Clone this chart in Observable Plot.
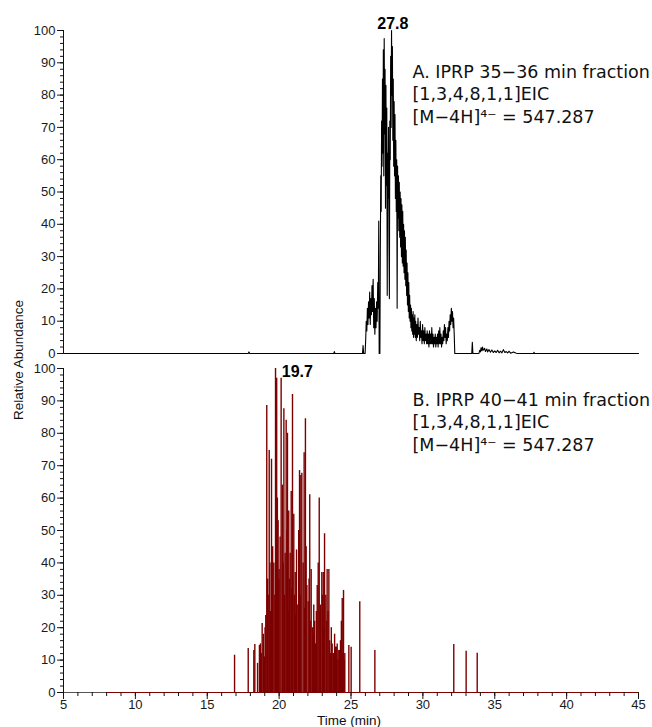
<!DOCTYPE html>
<html><head><meta charset="utf-8">
<script src="https://cdn.jsdelivr.net/npm/d3@7"></script>
<script src="https://cdn.jsdelivr.net/npm/@observablehq/plot@0.6"></script>
<style>
body{margin:0;background:#fff;}
#wrap{position:relative;width:652px;height:727px;overflow:hidden;}
#wrap svg{display:block;}
#wrap svg g[aria-label="y-axis"] text{font-size:13px !important;}
#wrap svg g[aria-label="x-axis"] text{font-size:12.5px !important;}
#ylab{position:absolute;left:18px;top:360px;transform:translate(-50%,-50%) rotate(-90deg);font:13.5px "Liberation Sans",Arial,sans-serif;white-space:nowrap;color:#111;z-index:2;}
</style></head><body>
<div id="wrap"><div id="ylab">Relative Abundance</div></div>
<script>
// Panel A trace (time in min, relative abundance)
const timeA = [5,17.85,17.9,17.95,23.8,23.84,23.88,25.8,25.84,25.88,25.98,
26.02,26.06,26.10,26.14,26.18,26.22,26.26,26.30,26.34,26.38,26.42,26.46,26.50,26.54,26.58,26.62,26.66,26.70,26.74,26.78,26.82,26.86,26.90,26.93,26.96,27.01,
27.04,27.07,27.10,27.13,27.16,27.19,27.22,27.25,27.28,27.31,27.34,27.37,27.40,27.43,27.46,27.49,27.52,27.55,27.58,27.61,27.64,27.67,27.70,27.73,27.76,27.79,27.82,27.85,27.88,27.91,27.94,27.97,
28.00,28.03,28.06,28.09,28.12,28.15,28.18,28.21,28.24,28.27,28.30,28.33,28.36,28.39,28.42,28.45,28.48,28.51,28.54,28.57,28.60,28.63,28.66,28.69,28.72,28.75,28.78,28.81,28.84,28.87,28.90,28.93,28.96,28.99,
29.02,29.05,29.08,29.11,29.14,29.17,29.20,29.23,29.26,29.29,29.32,29.35,29.38,29.41,29.44,29.47,29.50,
29.54,29.58,29.62,29.66,29.70,29.74,29.78,29.82,29.86,29.90,29.94,29.98,30.02,30.06,30.10,30.14,30.18,30.22,30.26,30.30,30.34,30.38,30.42,30.46,30.50,30.54,30.58,30.62,30.66,30.70,30.74,30.78,30.82,30.86,30.90,30.94,30.98,
31.02,31.06,31.10,31.14,31.18,31.22,31.26,31.30,31.34,31.38,31.42,31.46,31.50,31.54,31.58,31.62,31.66,31.70,31.74,31.78,31.82,31.86,31.90,31.94,31.98,32.02,32.06,32.10,32.14,32.18,32.22,32.26,
33.40,33.44,33.48,33.90,33.95,34.0,34.05,34.1,34.15,34.2,34.3,34.35,34.45,34.5,34.6,34.7,34.8,34.9,35.0,35.1,35.2,35.3,35.4,35.5,35.6,35.7,35.8,35.9,36.0,36.1,36.3,36.5,36.6,37.7,37.73,37.76,45];
const abundA = [0,0,0.5,0,0,0.6,0,0,2.5,0,0,
4,10,7,14,9,16,11,19,9,17,12,21,13,23,8,17,6,14,8,16,10,22,14,41,0,0,
32,55,44,72,58,85,62,94,55,97.5,68,88,45,83,52,76,18,62,48,70,35,17,72,60,92,70,100,80,95,66,85,58,
78,55,74,48,66,44,60,14,58,42,55,38,53,36,50,33,48,30,46,28,44,27,40,25,38,23,36,21,32,18,28,15,25,13,
22,11,18,10,15,8,14,7,12,6,13,5,11,6,12,5,10,
4,9,5,11,6,8,4,10,5,7,3,9,4,7,3,8,4,6,3,7,3,6,2,7,3,6,3,8,3,6,2,5,3,6,2,5,3,
6,2,7,3,8,3,6,2,5,3,7,4,9,5,8,3,6,4,8,5,10,7,12,9,14,10,13,8,11,6,0,0,
0,3.5,0,0,1,0.5,1.8,0.8,2,1,1.6,0.6,1.4,0.5,1.2,0.4,1.1,0.3,0.8,0.3,1.0,0.2,0.7,0.2,1.2,0.3,0.6,0.2,0.7,0.1,0.5,0.1,0,0,0.4,0,0];

// Panel B scans (time in min, relative abundance)
const timeB = [16.9,17.85,18.24,18.31,18.50,18.63,18.70,18.76,18.82,18.90,18.98,19.02,19.07,19.14,19.20,19.24,19.31,19.36,19.40,19.47,19.52,19.55,19.63,19.70,19.75,19.83,19.88,19.93,19.97,20.00,20.07,20.14,20.23,20.28,20.33,20.37,20.42,20.49,20.54,20.58,20.62,20.67,20.72,20.77,20.84,20.88,20.93,21.02,21.07,21.12,21.16,21.21,21.30,21.36,21.42,21.47,21.51,21.58,21.67,21.74,21.78,21.83,21.88,21.93,22.02,22.08,22.13,22.18,22.23,22.32,22.37,22.41,22.47,22.53,22.59,22.65,22.72,22.79,22.84,22.88,22.97,23.02,23.07,23.12,23.16,23.25,23.30,23.34,23.40,23.46,23.52,23.57,23.63,23.69,23.75,23.80,23.86,23.92,23.98,24.04,24.10,24.15,24.21,24.27,24.33,24.39,24.43,24.48,24.53,24.57,24.85,25.01,25.61,26.66,32.15,33.01,33.78];
const abundB = [11.5,13.6,13,14.8,9,14.5,15,12,21.3,18,11,20,23.8,88.6,35,30,74.7,40,25,72,28,45,40,30,100,97,60,53,35,38,48,97,64,40,87.6,30,43,84,50,80,25,56,35,43,62,32,92,55,30,37,24,44,27,50,68.5,30,67,67.7,40,74,26,84.5,45,33,28,35,61,22,38,20,18,27,22,15,25,33,40,60,25,27,37,30,37,20,49,30,22,38,25,38,16,12,20,15,12,12,18,14,14,15,10,13,13,16,22,29,12,31.5,10,12,14.5,14,28,13,14.8,12.7,12.1];

const peakA = [{t: 27.8, v: 100, label: "27.8"}];
const peakB = [{t: 19.7, v: 100, label: "19.7"}];
const noteA = ["A. IPRP 35\u221236 min fraction\n[1,3,4,8,1,1]EIC\n[M\u22124H]\u2074\u207B = 547.287"];
const noteB = ["B. IPRP 40\u221241 min fraction\n[1,3,4,8,1,1]EIC\n[M\u22124H]\u2074\u207B = 547.287"];
const yMajor = [0,10,20,30,40,50,60,70,80,90,100];
const yMinor = [0,2,4,6,8,10,12,14,16,18,20,22,24,26,28,30,32,34,36,38,40,42,44,46,48,50,52,54,56,58,60,62,64,66,68,70,72,74,76,78,80,82,84,86,88,90,92,94,96,98,100];
const xMajor = [5,10,15,20,25,30,35,40,45];
const xMinor = [5,6,7,8,9,10,11,12,13,14,15,16,17,18,19,20,21,22,23,24,25,26,27,28,29,30,31,32,33,34,35,36,37,38,39,40,41,42,43,44,45];
const xLabel = "Time (min)";

const traceA = timeA.map((t, i) => ({t, v: abundA[i]}));
const scansB = timeB.map((t, i) => ({t, v: abundB[i]}));
const RED = "#7d0000";
const baseStyle = {fontFamily: "'Liberation Sans', Arial, sans-serif", fontSize: "13px", color: "#1a1a1a", background: "transparent", overflow: "visible"};
const noteFont = "'DejaVu Sans', 'Noto Sans', sans-serif";

function yAxisMarks() {
  return [
    Plot.ruleX([5], {y1: 0, y2: 100, stroke: "#111"}),
    Plot.ruleY(yMinor, {x1: 5, x2: 5, insetLeft: -3, stroke: "#111"})
  ];
}

const topPlot = Plot.plot({
  width: 652, height: 360, marginLeft: 63, marginRight: 14, marginTop: 30, marginBottom: 7,
  x: {domain: [5, 45], axis: null},
  y: {domain: [0, 100], ticks: yMajor, tickSize: 6, tickPadding: 2, label: null},
  style: baseStyle,
  marks: [
    ...yAxisMarks(),
    Plot.line(traceA, {x: "t", y: "v", stroke: "#000", strokeWidth: 1.1}),
    Plot.text(peakA, {x: "t", y: "v", text: "label", dx: -14, dy: -2, textAnchor: "start", lineAnchor: "bottom", fontWeight: "bold", fontSize: 16, fill: "#000"}),
    Plot.text(noteA, {frameAnchor: "top-left", dx: 349, dy: 31, textAnchor: "start", lineAnchor: "top", lineHeight: 1.3, fontSize: 17.5, fontFamily: noteFont, fill: "#111"})
  ]
});

const bottomPlot = Plot.plot({
  width: 652, height: 367, marginLeft: 63, marginRight: 14, marginTop: 8, marginBottom: 35,
  x: {domain: [5, 45], ticks: xMajor, tickSize: 7, tickPadding: 0, label: null},
  y: {domain: [0, 100], ticks: yMajor, tickSize: 6, tickPadding: 2, label: null},
  style: baseStyle,
  marks: [
    Plot.ruleY([0], {x1: 5, x2: 8, stroke: "#555"}),
    Plot.ruleY([0], {x1: 8, x2: 45, stroke: RED, strokeWidth: 1.2}),
    Plot.ruleX(scansB, {x: "t", y1: 0, y2: "v", stroke: RED, strokeWidth: 1.4}),
    ...yAxisMarks(),
    Plot.ruleX(xMinor, {y1: 0, y2: 0, insetBottom: -4, stroke: "#111"}),
    Plot.text(peakB, {x: "t", y: "v", text: "label", dx: 7, dy: 8, textAnchor: "start", lineAnchor: "bottom", fontWeight: "bold", fontSize: 16, fill: "#000"}),
    Plot.text(noteB, {frameAnchor: "top-left", dx: 349, dy: 21, textAnchor: "start", lineAnchor: "top", lineHeight: 1.3, fontSize: 17.5, fontFamily: noteFont, fill: "#111"}),
    Plot.text([xLabel], {frameAnchor: "bottom", dx: -2, dy: 32.5, lineAnchor: "bottom", fontSize: 13.5, fill: "#111"})
  ]
});

const wrap = document.getElementById("wrap");
wrap.appendChild(topPlot);
wrap.appendChild(bottomPlot);
</script>
</body></html>
